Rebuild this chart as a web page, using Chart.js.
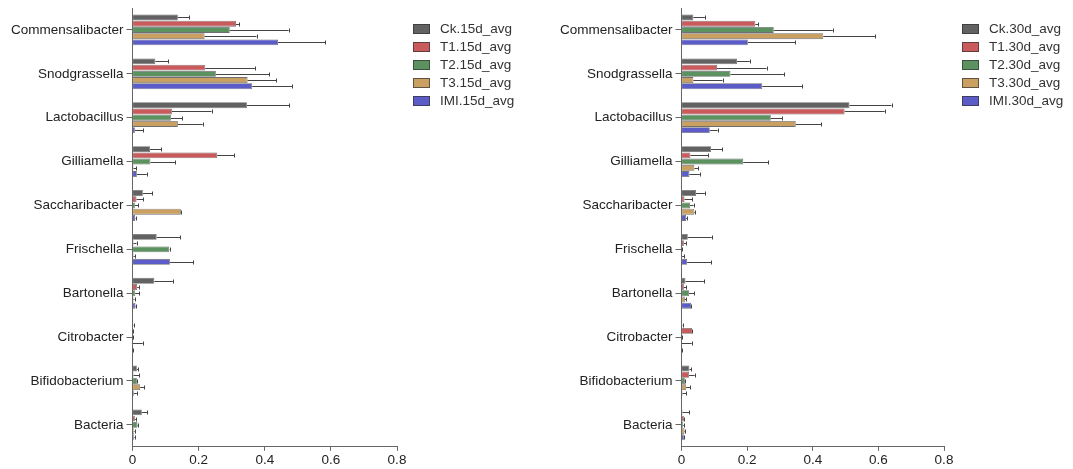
<!DOCTYPE html>
<html>
<head>
<meta charset="utf-8">
<script src="https://cdn.jsdelivr.net/npm/chart.js@4/dist/chart.umd.min.js"></script>
<style>
  html, body { margin: 0; padding: 0; background: #fff; }
  .panel { position: absolute; top: 0; height: 469px; }
  #p15 { left: 0; width: 549px; }
  #p30 { left: 549px; width: 524px; }
  .legend { position: absolute; top: 20px; margin: 0; padding: 0; list-style: none;
    font: 13.5px "Liberation Sans", Arial, Helvetica, sans-serif; color: #333; }
  .legend li { height: 18px; line-height: 18px; white-space: nowrap; }
  .legend span { display: inline-block; width: 17px; height: 10px; margin-right: 10px;
    box-sizing: border-box; border: 0.8px solid rgba(50,50,50,0.7); vertical-align: -1px; }
  #legend15 { left: 413px; }
  #legend30 { left: 962px; }
</style>
</head>
<body>
<div class="panel" id="p15"><canvas id="chart15"></canvas></div>
<div class="panel" id="p30"><canvas id="chart30"></canvas></div>
<ul class="legend" id="legend15"></ul>
<ul class="legend" id="legend30"></ul>
<script>
const genera = ['Commensalibacter', 'Snodgrassella', 'Lactobacillus', 'Gilliamella', 'Saccharibacter',
  'Frischella', 'Bartonella', 'Citrobacter', 'Bifidobacterium', 'Bacteria'];
const groups = ['Ck', 'T1', 'T2', 'T3', 'IMI'];
const xTicks = [0, 0.2, 0.4, 0.6, 0.8];

// 15 days: mean relative abundance
const ck15  = [0.137, 0.069, 0.346, 0.053, 0.031, 0.073, 0.066, 0.002, 0.013, 0.028];
const t1_15 = [0.313, 0.220, 0.119, 0.256, 0.012, 0.003, 0.014, 0.001, 0.003, 0.007];
const t2_15 = [0.294, 0.252, 0.116, 0.054, 0.007, 0.111, 0.008, 0.001, 0.013, 0.015];
const t3_15 = [0.218, 0.348, 0.137, 0.003, 0.146, 0.003, 0.003, 0.001, 0.023, 0.004];
const imi15 = [0.440, 0.362, 0.007, 0.013, 0.008, 0.113, 0.009, 0.001, 0.004, 0.004];
// 15 days: standard deviation
const ck15Err  = [0.034, 0.038, 0.128, 0.034, 0.029, 0.072, 0.056, 0.001, 0.005, 0.017];
const t1_15Err = [0.010, 0.150, 0.120, 0.052, 0.021, 0.009, 0.005, 0.001, 0.018, 0.003];
const t2_15Err = [0.178, 0.162, 0.034, 0.075, 0.010, 0.001, 0.013, 0.001, 0.001, 0.002];
const t3_15Err = [0.157, 0.087, 0.075, 0.008, 0.002, 0.004, 0.003, 0.030, 0.012, 0.002];
const imi15Err = [0.143, 0.120, 0.025, 0.030, 0.001, 0.071, 0.001, 0.001, 0.009, 0.002];

// 30 days: mean relative abundance
const ck30  = [0.036, 0.169, 0.512, 0.090, 0.044, 0.019, 0.012, 0.002, 0.024, 0.003];
const t1_30 = [0.225, 0.108, 0.497, 0.027, 0.009, 0.007, 0.007, 0.032, 0.023, 0.007];
const t2_30 = [0.281, 0.149, 0.272, 0.188, 0.026, 0.000, 0.023, 0.000, 0.010, 0.005];
const t3_30 = [0.432, 0.036, 0.348, 0.039, 0.039, 0.002, 0.010, 0.001, 0.014, 0.009];
const imi30 = [0.202, 0.246, 0.086, 0.024, 0.014, 0.017, 0.029, 0.001, 0.003, 0.007];
// 30 days: standard deviation
const ck30Err  = [0.035, 0.039, 0.128, 0.034, 0.027, 0.073, 0.056, 0.001, 0.005, 0.021];
const t1_30Err = [0.009, 0.151, 0.122, 0.054, 0.023, 0.008, 0.007, 0.001, 0.017, 0.002];
const t2_30Err = [0.180, 0.163, 0.035, 0.076, 0.011, 0.001, 0.016, 0.001, 0.002, 0.002];
const t3_30Err = [0.158, 0.089, 0.077, 0.011, 0.002, 0.007, 0.004, 0.030, 0.012, 0.002];
const imi30Err = [0.144, 0.121, 0.024, 0.032, 0.004, 0.073, 0.001, 0.001, 0.011, 0.002];

const colors = ['#626262', '#c95b5c', '#5b925f', '#c9a062', '#5c5cc9'];
const FONT = '"Liberation Sans", Arial, Helvetica, sans-serif';
const FS = 13.5;

// horizontal error whiskers with an end cap
const errorBars = {
  id: 'errorBars',
  afterDatasetsDraw(chart) {
    const ctx = chart.ctx;
    const xs = chart.scales.x;
    ctx.save();
    ctx.strokeStyle = '#444';
    ctx.lineWidth = 1;
    chart.data.datasets.forEach((ds, i) => {
      const meta = chart.getDatasetMeta(i);
      if (meta.hidden) return;
      meta.data.forEach((bar, j) => {
        const v = ds.data[j];
        const e = ds.errors[j];
        if (!e) return;
        const x0 = xs.getPixelForValue(v);
        const x1 = xs.getPixelForValue(v + e);
        const y = Math.round(bar.y) + 0.5;
        ctx.beginPath();
        ctx.moveTo(x0, y);
        ctx.lineTo(x1, y);
        ctx.moveTo(Math.round(x1) + 0.5, y - 2);
        ctx.lineTo(Math.round(x1) + 0.5, y + 2);
        ctx.stroke();
      });
    });
    ctx.restore();
  }
};

// legend list built from the chart's datasets
function buildLegend(chart, listId) {
  const ul = document.getElementById(listId);
  chart.data.datasets.forEach(ds => {
    const li = document.createElement('li');
    const box = document.createElement('span');
    box.style.background = ds.backgroundColor;
    li.appendChild(box);
    li.appendChild(document.createTextNode(ds.label));
    ul.appendChild(li);
  });
}

function makeChart(id, day, series, errs, padRight) {
  const datasets = groups.map((g, i) => ({
    label: g + '.' + day + '_avg',
    data: series[i],
    errors: errs[i],
    backgroundColor: colors[i],
    borderColor: 'rgba(50,50,50,0.7)',
    borderWidth: 0.8,
    barPercentage: 0.95,
    categoryPercentage: 0.71
  }));
  return new Chart(document.getElementById(id), {
    type: 'bar',
    data: { labels: genera, datasets },
    plugins: [errorBars],
    options: {
      indexAxis: 'y',
      responsive: true,
      maintainAspectRatio: false,
      animation: false,
      layout: { padding: { left: 8, top: 8, right: padRight, bottom: 0 } },
      plugins: {
        tooltip: { enabled: false },
        legend: { display: false }
      },
      scales: {
        x: {
          min: 0,
          max: 0.8,
          afterBuildTicks(axis) { axis.ticks = xTicks.map(v => ({ value: v })); },
          grid: { drawOnChartArea: false, tickLength: 4, color: '#666' },
          border: { color: '#666', width: 1 },
          ticks: { color: '#222', padding: 1, font: { family: FONT, size: FS } }
        },
        y: {
          // labels sit mid-category, so no room is needed above or below
          afterFit(scale) { scale.paddingTop = 0; scale.paddingBottom = 0; },
          grid: { drawOnChartArea: false, tickLength: 6, color: '#666', offset: false },
          border: { color: '#666', width: 1 },
          ticks: { color: '#222', padding: 3, font: { family: FONT, size: FS } }
        }
      }
    }
  });
}

const chart15 = makeChart('chart15', '15d', [ck15, t1_15, t2_15, t3_15, imi15],
  [ck15Err, t1_15Err, t2_15Err, t3_15Err, imi15Err], 152);
const chart30 = makeChart('chart30', '30d', [ck30, t1_30, t2_30, t3_30, imi30],
  [ck30Err, t1_30Err, t2_30Err, t3_30Err, imi30Err], 129);
buildLegend(chart15, 'legend15');
buildLegend(chart30, 'legend30');
</script>
</body>
</html>
